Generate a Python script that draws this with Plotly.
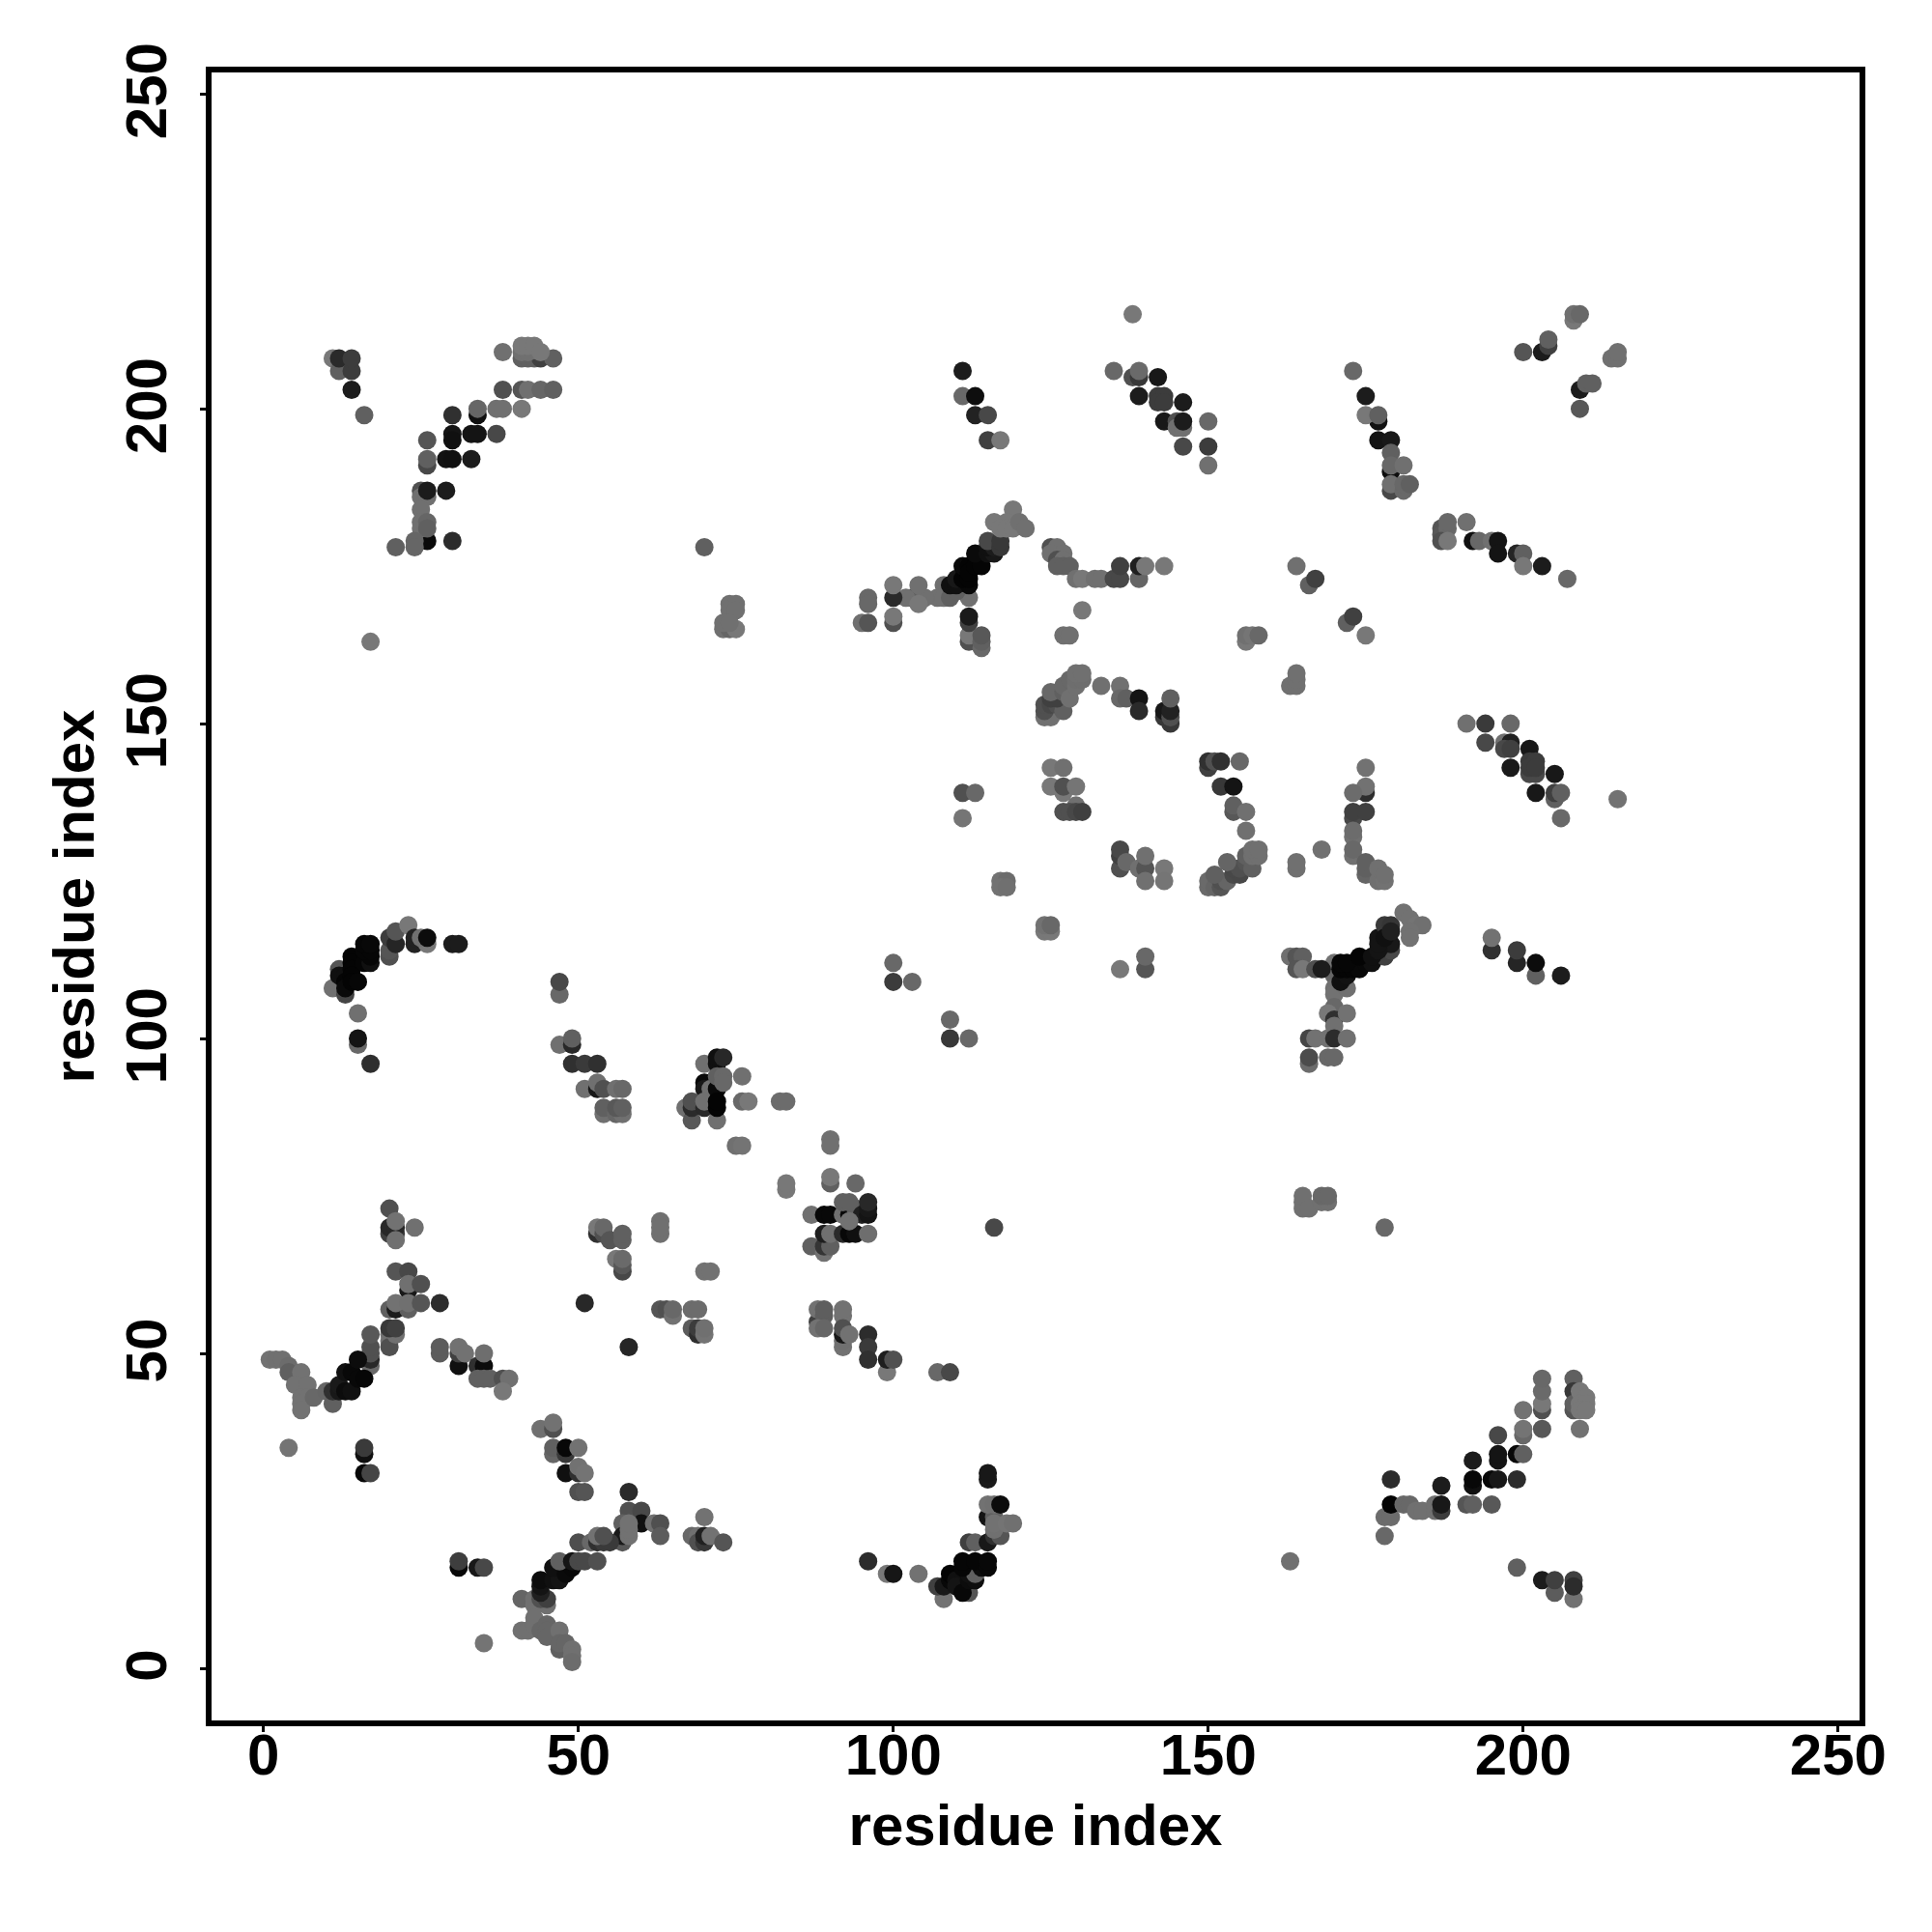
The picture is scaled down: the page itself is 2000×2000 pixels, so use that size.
import plotly.graph_objects as go

tick_values = [0, 50, 100, 150, 200, 250]
axis_label = "residue index"

a_i = [11,12,12,14,14,14,16,17]
a_j = [208,206,208,206,208,203,199,163]
a_g = [0x78,0x60,0x2a,0x3c,0x3c,0x1c,0x60,0x78]

b_i = [41,42,43,44,46,38,41,42,41,42,43,44]
b_j = [208,208,208,208,208,209,209,209,210,210,210,209]
b_g = [0x60,0x60,0x60,0x40,0x60,0x70,0x70,0x70,0x78,0x78,0x78,0x78]

c_i = [38,41,42,44,46,34,34,37,38,41]
c_j = [203,203,203,203,203,199,200,200,200,200]
c_g = [0x50,0x55,0x70,0x66,0x60,0x10,0x66,0x70,0x70,0x78]

d_i = [30,30,33,34,37,26,30,26,26,29,30,33]
d_j = [199,196,196,196,196,195,195,191,192,192,192,192]
d_g = [0x30,0x14,0x14,0x14,0x48,0x55,0x10,0x48,0x60,0x12,0x10,0x1c]

e_i = [25,25,26,25,26,25,25,26,26,26,29,30,24,24,21,70]
e_j = [187,186,186,184,179,182,181,182,181,187,187,179,179,178,178,178]
e_g = [0x50,0x70,0x70,0x70,0x0a,0x70,0x70,0x66,0x60,0x1c,0x1c,0x2c,0x66,0x66,0x60,0x60]

f_i = [111,111,113,113,115,115,117]
f_j = [206,202,202,199,199,195,195]
f_g = [0x1c,0x68,0x0e,0x22,0x48,0x40,0x78]

g_i = [135,138,139,139,142,139,142,143,142,143,146,143,145,145,146,146,150,146,150,150]
g_j = [206,205,205,206,205,202,202,202,201,201,201,198,198,197,197,198,198,194,194,191]
g_g = [0x68,0x50,0x38,0x6a,0x18,0x1c,0x3c,0x3c,0x3c,0x3c,0x1c,0x18,0x50,0x70,0x70,0x1c,0x68,0x48,0x3c,0x70]

h_i = [138,173,175,177,175,177,177,179,179,179,179,181,179,179,181,181,182]
h_j = [215,206,202,198,199,199,195,195,193,190,191,191,187,188,187,188,188]
h_g = [0x78,0x68,0x1c,0x12,0x78,0x60,0x14,0x18,0x60,0x0e,0x68,0x70,0x48,0x70,0x68,0x68,0x60]

k_i = [200,203,204,204,208,208,209,214,215,215,209,210,211,209]
k_j = [209,209,210,211,214,215,215,208,208,209,203,204,204,200]
k_g = [0x55,0x1c,0x40,0x60,0x78,0x70,0x68,0x70,0x70,0x70,0x1c,0x60,0x60,0x58]

l_i = [112,108,107,108,109,110,109,110,112,110,111,112,111,112,112,113,114,113,115,116,115,116,115,117,117,119,116,118,117,118,119,120,121]
l_j = [170,172,170,170,170,171,172,172,172,173,173,173,175,175,174,175,175,177,177,177,178,178,179,178,179,184,182,182,181,181,181,182,181]
l_g = [0x70,0x70,0x70,0x70,0x60,0x60,0x10,0x10,0x08,0x18,0x04,0x04,0x0a,0x04,0x04,0x04,0x05,0x0a,0x10,0x18,0x10,0x1c,0x48,0x38,0x38,0x78,0x78,0x78,0x78,0x78,0x78,0x70,0x70]

m_i = [103,104,105,102,104,104,100,100,100,100,96,96,95,96]
m_j = [170,170,170,170,172,169,170,172,166,167,170,169,166,166]
m_g = [0x45,0x60,0x70,0x70,0x70,0x78,0x2a,0x78,0x50,0x78,0x68,0x68,0x70,0x55]

n_i = [112,112,112,112,114,114,114]
n_j = [163,164,166,167,162,163,164]
n_g = [0x50,0x78,0x40,0x1a,0x68,0x60,0x58]

o_i = [74,75,74,75,73,74,75,73,74]
o_j = [169,169,168,168,165,165,165,166,166]
o_g = [0x70,0x70,0x70,0x70,0x70,0x65,0x78,0x70,0x70]

p_i = [125,126,125,127,126,127,126,127,128,129,130,132,133,135,136,136,139,139,140,143,130,127,128]
p_j = [178,178,177,177,176,176,175,175,175,173,173,173,173,173,173,175,173,175,175,175,168,164,164]
p_g = [0x50,0x70,0x70,0x70,0x50,0x70,0x60,0x60,0x60,0x70,0x78,0x70,0x70,0x48,0x48,0x40,0x65,0x20,0x78,0x78,0x78,0x70,0x70]

q_i = [124,125,124,124,125,126,127,125,126,125,127,127,128,128,129,129,130,129,130,133,136,136,137,139,139,143,144,143,144,144,144]
q_j = [151,151,152,153,153,153,152,154,154,155,155,156,157,154,156,157,157,158,158,156,156,154,154,154,152,151,150,152,151,152,154]
q_g = [0x70,0x70,0x50,0x50,0x48,0x50,0x60,0x40,0x40,0x68,0x60,0x68,0x68,0x70,0x70,0x6e,0x6e,0x70,0x70,0x70,0x70,0x68,0x60,0x14,0x2a,0x38,0x38,0x18,0x50,0x22,0x60]

r_i = [187,187,188,188,187,188,191,192,193,195,196,196,199,200,200,203,207]
r_j = [181,180,181,182,179,179,182,179,179,179,179,177,177,177,175,175,173]
r_g = [0x55,0x58,0x68,0x68,0x50,0x78,0x70,0x10,0x68,0x70,0x14,0x14,0x25,0x60,0x78,0x1c,0x68]

s_i = [164,166,167,172,173,175,156,156,157,158,163,164,164,164]
s_j = [175,172,173,166,167,164,163,164,164,164,156,156,157,158]
s_g = [0x70,0x60,0x40,0x60,0x40,0x78,0x78,0x70,0x75,0x68,0x70,0x70,0x70,0x70]

t_i = [191,194,198,194,197,198,197,198,201]
t_j = [150,150,150,147,147,147,146,146,146]
t_g = [0x70,0x3a,0x68,0x48,0x70,0x20,0x48,0x40,0x18]

u_i = [198,201,202,201,202,201,202,205,202,205,205,206,206,215]
u_j = [143,142,142,144,144,143,143,142,139,138,139,139,135,138]
u_g = [0x1a,0x48,0x48,0x3a,0x3c,0x3c,0x3c,0x18,0x18,0x60,0x40,0x60,0x68,0x72]

v_i = [11,13,15,15,15,17,12,16,12,13,13,13,14,14,14,14,14,15,16,17,17,16,17,16,17]
v_j = [108,107,104,99,100,96,111,113,110,110,109,108,113,112,111,110,109,109,112,112,113,114,114,115,115]
v_g = [0x70,0x45,0x70,0x68,0x14,0x2e,0x55,0x66,0x10,0x10,0x05,0x0a,0x04,0x04,0x04,0x04,0x04,0x06,0x05,0x10,0x06,0x06,0x06,0x06,0x08]

w_i = [20,20,20,21,21,23,24,24,26,25,26,30,31]
w_j = [113,114,116,115,117,118,115,116,115,116,116,115,115]
w_g = [0x50,0x55,0x3c,0x25,0x55,0x78,0x22,0x22,0x78,0x70,0x0c,0x1c,0x1c]

x_i = [47,47,47,49,49,49,51,53,51,53,53,54,56,57,54,54,56,57,56,57]
x_j = [107,109,99,99,100,96,96,96,92,92,93,92,92,92,88,89,88,88,89,89]
x_g = [0x68,0x48,0x70,0x28,0x60,0x30,0x3a,0x30,0x70,0x18,0x70,0x50,0x70,0x68,0x70,0x60,0x66,0x70,0x58,0x60]

y_i = [67,68,68,68,70,70,70,71,70,70,72,72,73,72,72,73,73,72,72,72,76,76,77,82,83,75,76,90,90,90,90,83,83,94]
y_j = [89,87,89,90,96,93,92,92,89,90,96,97,97,92,94,94,93,87,89,90,94,90,90,90,90,83,83,84,83,77,78,76,77,77]
y_g = [0x70,0x58,0x2a,0x50,0x70,0x08,0x18,0x70,0x28,0x70,0x10,0x10,0x28,0x0a,0x60,0x68,0x68,0x70,0x04,0x04,0x70,0x68,0x78,0x6c,0x6c,0x70,0x74,0x70,0x70,0x60,0x78,0x78,0x78,0x68]

z_i = [111,113,111,125,127,125,127,127,129,129,127,128,129,130,136,136,136,137,139,140,140,140,143,143,117,118,117,118,124,125,124,125,136,140,140,100,100,103,109,109,112]
z_j = [139,139,135,143,143,140,139,140,140,137,136,136,136,136,127,129,130,128,127,127,125,129,127,125,125,125,124,124,117,117,118,118,111,111,113,112,109,109,103,100,100]
z_g = [0x50,0x68,0x75,0x78,0x70,0x78,0x78,0x50,0x75,0x70,0x50,0x50,0x48,0x40,0x50,0x40,0x48,0x68,0x70,0x55,0x70,0x70,0x78,0x75,0x72,0x6c,0x72,0x70,0x78,0x78,0x72,0x68,0x78,0x55,0x68,0x68,0x3c,0x68,0x68,0x38,0x68]

aa_i = [150,150,151,152,155,152,154,154,154,156,156,150,150,151,152,152,153,151,154,155,154,155,156,153,156,157,157,158,157,158,164,164,168]
aa_j = [143,144,144,144,144,140,140,136,137,136,133,124,125,124,124,125,125,126,126,126,127,127,128,128,129,127,129,129,130,130,127,128,130]
aa_g = [0x40,0x30,0x50,0x30,0x68,0x38,0x14,0x58,0x60,0x70,0x70,0x6a,0x6a,0x65,0x55,0x50,0x65,0x60,0x4a,0x48,0x48,0x50,0x55,0x65,0x60,0x60,0x70,0x70,0x70,0x70,0x70,0x70,0x70]

ab_i = [175,175,175,173,173,173,175,173,173,173,173,175,175,175,177,177,178,178]
ab_j = [143,139,140,139,135,136,136,132,133,129,130,126,127,128,125,127,125,126]
ab_g = [0x72,0x2e,0x72,0x6c,0x48,0x40,0x40,0x70,0x6c,0x70,0x68,0x65,0x60,0x60,0x70,0x70,0x72,0x70]

ac_i = [170,170,170,170,172,170,169,170,170,172,171,172,171,172,173,174,171,172,175,176,174,178,179,178,179,177,178,179,181,182,183,184,182,182]
ac_j = [112,110,108,107,108,105,104,103,102,104,109,110,111,111,111,111,112,112,112,112,113,113,114,115,115,116,118,118,120,119,118,118,117,116]
ac_g = [0x72,0x66,0x70,0x72,0x70,0x68,0x78,0x30,0x70,0x72,0x10,0x12,0x05,0x05,0x05,0x08,0x06,0x06,0x08,0x10,0x04,0x40,0x48,0x0e,0x18,0x14,0x3a,0x35,0x72,0x72,0x74,0x70,0x72,0x72]

ax_i = [176,177,177,178,179]
ax_j = [113,114,115,116,117]
ax_g = [0x10,0x14,0x14,0x10,0x20]

ad_i = [166,167,169,170,172,166,166,169,170,163,164,165,164,165,167,168,195,195,199,199,202,202,206]
ad_j = [100,100,100,100,100,96,97,97,97,113,113,113,111,111,111,111,114,116,112,114,110,112,110]
ad_g = [0x45,0x72,0x72,0x2c,0x70,0x6c,0x4c,0x68,0x68,0x70,0x55,0x60,0x55,0x78,0x50,0x1c,0x30,0x72,0x25,0x3c,0x60,0x0c,0x1c]

ae_i = [20,20,21,20,21,21,21,24]
ae_j = [73,69,69,70,70,71,68,70]
ae_g = [0x50,0x40,0x3a,0x28,0x28,0x72,0x70,0x70]

af_i = [21,23,23,23,25,20,21,23,21,23,25,28,20,20,20,21,20,21,17,17,17,17,17]
af_j = [63,63,60,61,61,57,57,57,58,58,58,58,53,52,51,53,54,54,48,49,50,51,53]
af_g = [0x55,0x48,0x18,0x70,0x50,0x60,0x1c,0x60,0x72,0x70,0x55,0x2c,0x70,0x70,0x50,0x70,0x38,0x40,0x68,0x28,0x50,0x50,0x58]

ag_i = [1,2,3,4,4,6,5,7,6,7,6,6,8,10,11,11,12,12,13,14,13,14,15,16,15]
ag_j = [49,49,49,48,47,47,45,45,43,43,42,41,43,44,42,44,44,45,44,44,47,47,46,46,49]
ag_g = [0x72,0x70,0x70,0x6c,0x60,0x72,0x72,0x72,0x72,0x72,0x72,0x72,0x68,0x66,0x60,0x30,0x18,0x1a,0x0c,0x10,0x10,0x08,0x08,0x06,0x0c]

ah_i = [4,16,16,16,17,35,31,31,34,35,51,58,116,178,96,163]
ah_j = [35,34,35,31,31,4,16,17,16,16,58,51,70,70,17,17]
ah_g = [0x74,0x10,0x3a,0x08,0x45,0x74,0x08,0x3e,0x18,0x48,0x28,0x26,0x48,0x68,0x2c,0x70]

ai_i = [28,28,31,31,31,32,34,35,35,34,35,36,38,39,38]
ai_j = [50,51,48,50,51,50,48,48,50,46,46,46,46,46,44]
ai_g = [0x5c,0x5c,0x10,0x40,0x72,0x72,0x30,0x0c,0x6e,0x60,0x60,0x60,0x50,0x70,0x78]

aj_i = [44,46,46,46,46,48,48,50,48,50,50,51,50,51]
aj_j = [38,38,39,34,35,34,35,35,31,31,32,31,28,28]
aj_g = [0x70,0x50,0x72,0x66,0x60,0x38,0x08,0x72,0x10,0x30,0x72,0x74,0x50,0x55]

ak_i = [58,58,60,60,62,63,63,57,57,57,58,58,58,50,52,53,54,55,53,54]
ak_j = [28,25,25,23,23,23,21,23,20,21,21,22,23,20,20,20,20,20,21,21]
ak_g = [0x2a,0x50,0x48,0x10,0x70,0x50,0x5c,0x60,0x58,0x1a,0x72,0x72,0x72,0x4e,0x68,0x30,0x3a,0x3a,0x72,0x50]

al_i = [70,68,69,69,70,70,71,73]
al_j = [24,21,21,20,20,21,21,20]
al_g = [0x72,0x68,0x70,0x50,0x38,0x20,0x72,0x55]

am_i = [41,43,43,45,44,45,44,44,44,46,47,46,48,49,47,49,50,51,53]
am_j = [11,11,10,10,11,11,12,13,14,14,14,16,15,16,17,17,17,17,17]
am_g = [0x65,0x70,0x70,0x70,0x50,0x40,0x20,0x14,0x0c,0x10,0x14,0x10,0x0a,0x08,0x60,0x15,0x48,0x48,0x50]

an_i = [41,42,43,43,44,45,45,45,47,47,47,48,49,49,49]
an_j = [6,6,7,8,6,7,6,5,6,3,4,4,3,2,1]
an_g = [0x70,0x70,0x70,0x70,0x66,0x66,0x66,0x66,0x70,0x60,0x66,0x66,0x70,0x70,0x6c]

ao_i = [53,53,54,54,55,57,57,56,57,57,57,63,63,63]
ao_j = [69,70,69,70,68,68,69,65,63,64,65,69,71,70]
ao_g = [0x30,0x78,0x50,0x68,0x55,0x60,0x60,0x78,0x48,0x58,0x6a,0x70,0x70,0x70]

ap_i = [63,64,65,65,68,69,68,69,69,70,70,70,71]
ap_j = [57,57,56,57,57,57,54,53,54,53,54,63,63]
ap_g = [0x55,0x50,0x72,0x68,0x6c,0x6c,0x5c,0x2e,0x3c,0x74,0x70,0x72,0x72]

aq_i = [87,89,90,92,93,94,92,93,95,96,96,96,87,89,89,90,89,90,92,93,94,93,96]
aq_j = [72,72,72,72,72,73,74,74,72,72,73,74,67,66,67,67,69,69,69,69,69,71,69]
aq_g = [0x70,0x08,0x08,0x70,0x08,0x60,0x60,0x60,0x20,0x14,0x18,0x28,0x60,0x72,0x35,0x60,0x1e,0x70,0x2a,0x08,0x10,0x72,0x6e]

ar_i = [88,88,89,89,92,92,88,89,92,92,92,92,93,96,96,96,99,99,100,107,109]
ar_j = [55,57,56,57,56,57,54,54,51,52,53,54,53,53,51,49,47,49,49,47,47]
ar_g = [0x40,0x72,0x5e,0x5e,0x72,0x72,0x72,0x66,0x72,0x70,0x18,0x50,0x72,0x2c,0x3a,0x30,0x78,0x1e,0x50,0x68,0x48]

as_i = [108,112,107,108,109,109,110,110,111,112,113,112,113,114,111,111,113,115,115,112,113,115,116,117,115,116,116,116,118,119,115,116,117,115,115,99,100,104]
as_j = [11,12,13,13,14,15,14,13,12,14,14,15,15,16,16,17,17,16,17,20,20,20,21,21,24,24,22,23,23,23,26,26,26,30,31,15,15,15]
as_g = [0x72,0x55,0x40,0x18,0x08,0x04,0x10,0x14,0x08,0x0c,0x0e,0x10,0x60,0x0c,0x06,0x06,0x06,0x08,0x08,0x40,0x60,0x18,0x30,0x55,0x14,0x60,0x70,0x72,0x74,0x70,0x72,0x70,0x0c,0x1a,0x18,0x78,0x16,0x72]

at_i = [203,203,203,203,200,200,200,203,208,208,208,208,209,210,209,210,209,210,209]
at_j = [41,42,44,46,41,37,38,38,46,44,41,42,44,43,42,42,41,41,38]
at_g = [0x50,0x78,0x6a,0x68,0x72,0x68,0x74,0x58,0x60,0x38,0x55,0x60,0x78,0x78,0x78,0x78,0x78,0x78,0x72]

au_i = [196,196,196,199,200,192,179,187,192,192,195,196,199,178,179,178,179,181,182,183,184,186,186,187,187,191,192,195,199,203,205,205,208,208,208]
au_j = [37,33,34,34,34,33,30,29,29,30,30,30,30,24,24,21,26,26,26,25,25,25,26,25,26,26,26,26,16,14,12,14,11,14,13]
au_g = [0x48,0x14,0x14,0x08,0x60,0x1c,0x2c,0x1c,0x10,0x08,0x08,0x18,0x2c,0x6c,0x6c,0x68,0x04,0x68,0x68,0x70,0x70,0x70,0x70,0x3c,0x18,0x55,0x60,0x58,0x60,0x1c,0x5c,0x40,0x72,0x40,0x2c]

av_i = [165,165,165,166,168,169,168,169]
av_j = [73,74,75,73,74,74,75,75]
av_g = [0x70,0x70,0x70,0x70,0x70,0x70,0x68,0x68]

groups = [
    (a_i,a_j,a_g),(b_i,b_j,b_g),(c_i,c_j,c_g),(d_i,d_j,d_g),(e_i,e_j,e_g),(f_i,f_j,f_g),
    (g_i,g_j,g_g),(h_i,h_j,h_g),(k_i,k_j,k_g),(l_i,l_j,l_g),(m_i,m_j,m_g),(n_i,n_j,n_g),
    (o_i,o_j,o_g),(p_i,p_j,p_g),(q_i,q_j,q_g),(r_i,r_j,r_g),(s_i,s_j,s_g),(t_i,t_j,t_g),
    (u_i,u_j,u_g),(v_i,v_j,v_g),(w_i,w_j,w_g),(x_i,x_j,x_g),(y_i,y_j,y_g),(z_i,z_j,z_g),
    (aa_i,aa_j,aa_g),(ab_i,ab_j,ab_g),(ac_i,ac_j,ac_g),(ax_i,ax_j,ax_g),(ad_i,ad_j,ad_g),(ae_i,ae_j,ae_g),
    (af_i,af_j,af_g),(ag_i,ag_j,ag_g),(ah_i,ah_j,ah_g),(ai_i,ai_j,ai_g),(aj_i,aj_j,aj_g),
    (ak_i,ak_j,ak_g),(al_i,al_j,al_g),(am_i,am_j,am_g),(an_i,an_j,an_g),(ao_i,ao_j,ao_g),
    (ap_i,ap_j,ap_g),(aq_i,aq_j,aq_g),(ar_i,ar_j,ar_g),(as_i,as_j,as_g),(at_i,at_j,at_g),
    (au_i,au_j,au_g),(av_i,av_j,av_g),
]

xs, ys, colors = [], [], []
for gi, gj, gg in groups:
    n = min(len(gi), len(gj), len(gg))
    xs += gi[:n]
    ys += gj[:n]
    colors += [f"rgb({v},{v},{v})" for v in gg[:n]]

FONT = "Liberation Sans"
bold_font = dict(family=FONT, size=60, color="black", weight=700)

fig = go.Figure(go.Scatter(
    x=xs, y=ys, mode="markers",
    marker=dict(size=19, color=colors, line=dict(width=0)),
    showlegend=False, hoverinfo="skip",
))

axis_common = dict(
    tickmode="array", tickvals=tick_values, ticktext=[str(v) for v in tick_values],
    showgrid=False, zeroline=False, showline=True, mirror=True,
    linecolor="black", linewidth=6,
    ticks="outside", ticklen=6, tickwidth=3, tickcolor="black",
    tickfont=bold_font,
)
fig.update_xaxes(
    range=[-8.24, 253.4], **axis_common,
    ticklabelstandoff=-28,
    title=dict(text=axis_label, font=bold_font, standoff=21),
)
fig.update_yaxes(
    range=[-8.28, 253.4], **axis_common,
    tickangle=-90, ticklabelstandoff=11, ticklabelshift=6,
    title=dict(text=axis_label, font=bold_font, standoff=3),
)
fig.update_layout(
    width=2000, height=2000, autosize=False,
    margin=dict(l=211, r=83, t=67, b=227, pad=0, autoexpand=False),
    paper_bgcolor="white", plot_bgcolor="white",
)
fig.write_html("out.html")
